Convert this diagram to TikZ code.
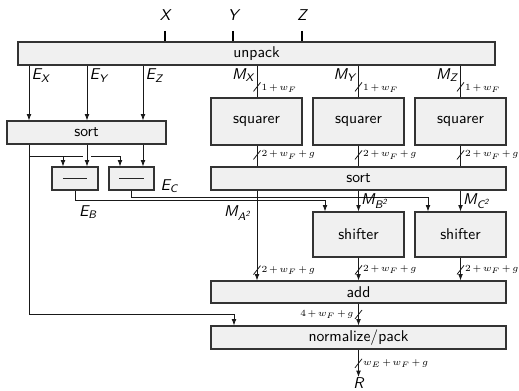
\documentclass[tikz,border=0pt]{standalone}
\usepackage{amsmath}
\usetikzlibrary{arrows.meta}
\newcommand\mybox[6]{\node[box, minimum width={(#4-#2)*0.64pt}, minimum height={(#5-#3)*0.64pt}] (#1) at ({(#2+#4)/2},{(#3+#5)/2}) {#6};}
\newcommand\wtxt[1]{\fontsize{6}{7}\selectfont$\medmuskip=2.5mu #1$}
\begin{document}
\begin{tikzpicture}[x=0.64pt,y=-0.64pt,
  box/.style={draw=black!80, fill=black!6, line width=0.75pt, inner sep=0pt, font=\sffamily},
  bus/.style={line width=0.5pt, draw=black!90},
  arr/.style={bus, -{Latex[length=4pt,width=3pt]}},
  tickline/.style={line width=1.4pt, draw=black},
  wlab/.style={inner sep=1pt},
  slab/.style={font=\sffamily\slshape, inner sep=1.5pt},
  wsl/.pic={\draw[bus] (-3.5,4.5) -- (3.5,-4.5);}
]
\useasboundingbox (0,0) rectangle (519,391);

% column coordinates
\coordinate (cEX) at (29,0);
\coordinate (cEY) at (87,0);
\coordinate (cEZ) at (143,0);
\coordinate (cA) at (257,0);
\coordinate (cB) at (358.5,0);
\coordinate (cC) at (460.5,0);
\coordinate (cS1a) at (63,0);
\coordinate (cS2a) at (120,0);
\coordinate (cShB) at (325,0);
\coordinate (cShC) at (428,0);
\coordinate (yEB) at (0,200);
\coordinate (yEC) at (0,197);
\coordinate (jb) at (29,156);
\coordinate (jn) at (234,314);

% boxes
\mybox{unpack}{18}{42}{495}{65}{unpack}
\mybox{sortL}{7}{121}{166}{144}{sort}
\mybox{sq1}{211}{98}{302}{145}{squarer}
\mybox{sq2}{313}{98}{404}{145}{squarer}
\mybox{sq3}{415}{98}{506}{145}{squarer}
\mybox{sortR}{211}{167}{506}{190}{sort}
\mybox{sub1}{52}{167}{98}{190}{}
\mybox{sub2}{109}{167}{154}{190}{}
\mybox{sh1}{313}{212}{404}{257}{shifter}
\mybox{sh2}{415}{212}{506}{257}{shifter}
\mybox{add}{211}{281}{506}{303}{add}
\mybox{norm}{211}{326}{506}{349}{normalize/pack}
\draw[line width=0.75pt, black!85] ([xshift=-7.7pt]sub1.center) -- ([xshift=7.7pt]sub1.center);
\draw[line width=0.75pt, black!85] ([xshift=-7.7pt]sub2.center) -- ([xshift=7.7pt]sub2.center);

% inputs
\node[slab] (lX) at (165,15) {X};
\node[slab] (lY) at (233,15) {Y};
\node[slab] (lZ) at (302,15) {Z};
\coordinate (tX) at (165,31);
\coordinate (tY) at (233,31);
\coordinate (tZ) at (302,31);
\draw[tickline] (tX) -- (tX |- unpack.north);
\draw[tickline] (tY) -- (tY |- unpack.north);
\draw[tickline] (tZ) -- (tZ |- unpack.north);

% exponents
\draw[arr] (unpack.south -| cEX) -- node[slab, pos=0.18, anchor=west] (lEX) {E$_\text{X}$} (sortL.north -| cEX);
\draw[arr] (unpack.south -| cEY) -- node[slab, pos=0.18, anchor=west] (lEY) {E$_\text{Y}$} (sortL.north -| cEY);
\draw[arr] (unpack.south -| cEZ) -- node[slab, pos=0.18, anchor=west] (lEZ) {E$_\text{Z}$} (sortL.north -| cEZ);

% mantissas
\draw[bus] (unpack.south -| cA) -- node[slab, pos=0.3, anchor=east] (lMX) {M$_\text{X}$} coordinate[pos=0.67] (sX) (sq1.north -| cA);
\draw[bus] (unpack.south -| cB) -- node[slab, pos=0.3, anchor=east] (lMY) {M$_\text{Y}$} coordinate[pos=0.67] (sY) (sq2.north -| cB);
\draw[bus] (unpack.south -| cC) -- node[slab, pos=0.3, anchor=east] (lMZ) {M$_\text{Z}$} coordinate[pos=0.67] (sZ) (sq3.north -| cC);
\pic at (sX) {wsl}; \node[wlab, anchor=west] (wX) at ([xshift=1.8pt,yshift=-1pt]sX) {\wtxt{1+w_F}};
\pic at (sY) {wsl}; \node[wlab, anchor=west] (wY) at ([xshift=1.8pt,yshift=-1pt]sY) {\wtxt{1+w_F}};
\pic at (sZ) {wsl}; \node[wlab, anchor=west] (wZ) at ([xshift=1.8pt,yshift=-1pt]sZ) {\wtxt{1+w_F}};

% squarers to sort
\draw[bus] (sq1.south -| cA) -- coordinate[pos=0.45] (s1) (sortR.north -| cA);
\draw[bus] (sq2.south -| cB) -- coordinate[pos=0.45] (s2) (sortR.north -| cB);
\draw[bus] (sq3.south -| cC) -- coordinate[pos=0.45] (s3) (sortR.north -| cC);
\pic at (s1) {wsl}; \node[wlab, anchor=west] (w1) at ([xshift=1.8pt]s1) {\wtxt{2+w_F+g}};
\pic at (s2) {wsl}; \node[wlab, anchor=west] (w2) at ([xshift=1.8pt]s2) {\wtxt{2+w_F+g}};
\pic at (s3) {wsl}; \node[wlab, anchor=west] (w3) at ([xshift=1.8pt]s3) {\wtxt{2+w_F+g}};

% left sort outputs
\draw[arr] (sortL.south -| cEX) |- (jn) -- (norm.north -| jn);
\draw[arr] (jb) -| (sub1.north -| cS1a);
\draw[arr] (jb) -| (sub2.north -| cS2a);
\draw[white, line width=2pt] ([xshift=-2.3pt]jb -| cEY) -- ([xshift=2.3pt]jb -| cEY);
\draw[arr] (sortL.south -| cEY) -- (sub1.north -| cEY);
\draw[arr] (sortL.south -| cEZ) -- (sub2.north -| cEZ);

% exponent differences
\draw[arr] (sub1.south) -- (sub1.south |- yEB) -| (sh1.north -| cShB);
\draw[arr] (sub2.south) -- (sub2.south |- yEC) -| (sh2.north -| cShC);
\node[slab] (lEB) at (88,212) {E$_\text{B}$};
\node[slab, anchor=west] (lEC) at (158,186) {E$_\text{C}$};

% sorted mantissas
\draw[arr] (sortR.south -| cA) -- coordinate[pos=0.885] (sA) (add.north -| cA);
\node[slab, anchor=east] (lMA) at (254,213) {M$_{\text{A}^\text{2}}$};
\draw[arr] (sortR.south -| cB) -- node[slab, pos=0.5, anchor=west] (lMB) {M$_{\text{B}^\text{2}}$} (sh1.north -| cB);
\draw[arr] (sortR.south -| cC) -- node[slab, pos=0.5, anchor=west] (lMC) {M$_{\text{C}^\text{2}}$} (sh2.north -| cC);

% shifters to add
\draw[arr] (sh1.south -| cB) -- coordinate[pos=0.54] (sB) (add.north -| cB);
\draw[arr] (sh2.south -| cC) -- coordinate[pos=0.54] (sC) (add.north -| cC);
\pic at (sA) {wsl}; \node[wlab, anchor=west] (wA) at ([xshift=1.8pt]sA) {\wtxt{2+w_F+g}};
\pic at (sB) {wsl}; \node[wlab, anchor=west] (wB) at ([xshift=1.8pt]sB) {\wtxt{2+w_F+g}};
\pic at (sC) {wsl}; \node[wlab, anchor=west] (wC) at ([xshift=1.8pt]sC) {\wtxt{2+w_F+g}};

% add to normalize
\draw[arr] (add.south) -- coordinate[pos=0.5] (sN) (norm.north);
\pic at (sN) {wsl}; \node[wlab, anchor=east] (wN) at ([xshift=-2pt]sN) {\wtxt{4+w_F+g}};

% output
\node[slab, inner sep=0.5pt] (R) at (358.5,383.5) {R};
\draw[arr] (norm.south) -- coordinate[pos=0.5] (sR) (R.north);
\pic at (sR) {wsl}; \node[wlab, anchor=west] (wR) at ([xshift=1.8pt]sR) {\wtxt{w_E+w_F+g}};
\end{tikzpicture}
\end{document}
